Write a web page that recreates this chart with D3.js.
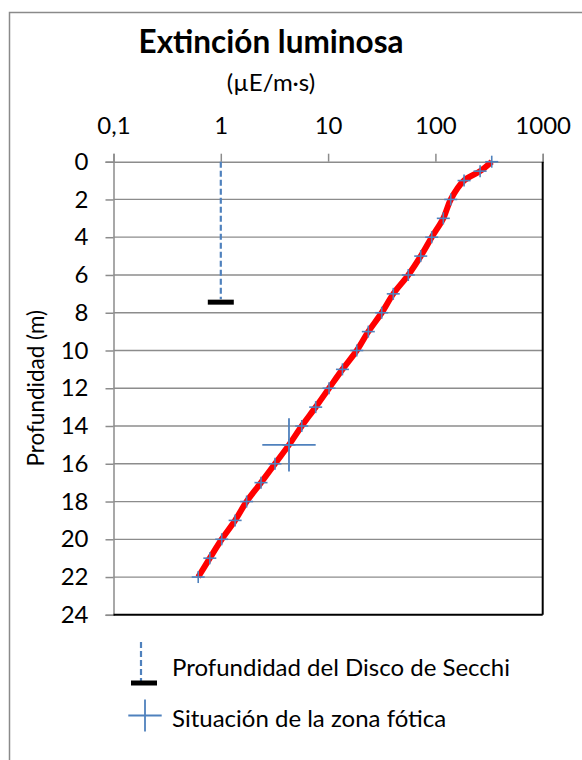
<!DOCTYPE html>
<html>
<head>
<meta charset="utf-8">
<script src="https://cdn.jsdelivr.net/npm/d3@7"></script>
<style>
  html, body { margin: 0; padding: 0; background: #fff; }
  svg { display: block; }
  text { font-family: Lato, "Open Sans", sans-serif; fill: #000; }
</style>
</head>
<body>
<svg id="chart" width="582" height="760"></svg>
<script>
// ---- data ----
const depths = [0, 0.5, 1, 2, 3, 4, 5, 6, 7, 8, 9, 10, 11, 12, 13, 14, 15, 16, 17, 18, 19, 20, 21, 22];
const light  = [335, 261, 185, 139, 118.5, 92.4, 73, 55.9, 40.5, 31.6, 23.7, 18.5, 13.6, 10.2, 7.66, 5.68, 4.32, 3.2, 2.37, 1.74, 1.36, 1.02, 0.79, 0.616];
const secchiLight = [1];
const secchiDepth = [7.44];
const photicLight = [4.32];
const photicDepth = [15];
const xTicks = [0.1, 1, 10, 100, 1000];
const xTickLabels = ["0,1", "1", "10", "100", "1000"];
const yTicks = [0, 2, 4, 6, 8, 10, 12, 14, 16, 18, 20, 22, 24];
const titleText = "Extinción luminosa";
const subtitleText = "(µE/m·s)";
const yTitle = "Profundidad (m)";
const legendLabels = ["Profundidad del Disco de Secchi", "Situación de la zona fótica"];

const blue = "#4F81BD";
const svg = d3.select("#chart");

// outer chart border
svg.append("rect").attr("x", 9.5).attr("y", 12.5).attr("width", 600).attr("height", 800)
  .attr("fill", "none").attr("stroke", "#8a8a8a").attr("stroke-width", 1.5);

const L = 113.5, R = 542.7, T = 161.7, B = 614.8;
const x = d3.scaleLog().domain([0.1, 1000]).range([L, R]);
const y = d3.scaleLinear().domain([0, 24]).range([T, B]);

// title
svg.append("text").attr("x", 271).attr("y", 53).attr("text-anchor", "middle")
  .attr("font-size", 31.5).attr("font-weight", "bold").text(titleText);
svg.append("text").attr("x", 271).attr("y", 91).attr("text-anchor", "middle")
  .attr("font-size", 24).text(subtitleText);

// gridlines
svg.append("g").selectAll("line").data(yTicks.filter(d => d > 0 && d < 24)).join("line")
  .attr("x1", L).attr("x2", R).attr("y1", d => y(d)).attr("y2", d => y(d))
  .attr("stroke", "#8c8c8c").attr("stroke-width", 1.3);

// top axis
const xAxis = d3.axisTop(x).tickValues(xTicks).tickSize(8).tickPadding(20)
  .tickFormat((d, i) => xTickLabels[i]);
const gx = svg.append("g").attr("transform", `translate(0,${T})`).call(xAxis);
gx.select(".domain").attr("stroke", "#8c8c8c").attr("stroke-width", 1.5);
gx.selectAll(".tick line").attr("stroke", "#8c8c8c").attr("stroke-width", 1.5);
gx.selectAll(".tick text").attr("font-size", 24).attr("font-family", "Lato").attr("fill", "#000");

// left axis
const yAxis = d3.axisLeft(y).tickValues(yTicks).tickSize(8).tickPadding(17);
const gy = svg.append("g").attr("transform", `translate(${L},0)`).call(yAxis);
gy.select(".domain").attr("stroke", "#8c8c8c").attr("stroke-width", 1.5);
gy.selectAll(".tick line").attr("stroke", "#8c8c8c").attr("stroke-width", 1.5);
gy.selectAll(".tick text").attr("font-size", 24).attr("font-family", "Lato").attr("fill", "#000");

// right & bottom plot borders
svg.append("line").attr("x1", R).attr("x2", R).attr("y1", T).attr("y2", B).attr("stroke", "#000").attr("stroke-width", 2);
svg.append("line").attr("x1", L).attr("x2", R).attr("y1", B).attr("y2", B).attr("stroke", "#000").attr("stroke-width", 2);

// y title
svg.append("text").attr("transform", `translate(44,${(T + B) / 2}) rotate(-90)`)
  .attr("text-anchor", "middle").attr("font-size", 22.5).text(yTitle);

// Secchi depth
svg.append("line").attr("x1", x(secchiLight[0])).attr("x2", x(secchiLight[0]))
  .attr("y1", y(0)).attr("y2", y(secchiDepth[0]) - 3)
  .attr("stroke", blue).attr("stroke-width", 2.2).attr("stroke-dasharray", "6,3");
svg.append("line").attr("x1", x(secchiLight[0]) - 13).attr("x2", x(secchiLight[0]) + 13)
  .attr("y1", y(secchiDepth[0])).attr("y2", y(secchiDepth[0]))
  .attr("stroke", "#000").attr("stroke-width", 5);

// light curve
const pts = depths.map((d, i) => [light[i], d]);
const line = d3.line().x(p => x(p[0])).y(p => y(p[1])).curve(d3.curveCatmullRom.alpha(0.5));
svg.append("path").datum(pts).attr("d", line).attr("fill", "none")
  .attr("stroke", "#FF0000").attr("stroke-width", 6).attr("stroke-linejoin", "round");

// markers
function cross(g, cx, cy, hw, hh, sw) {
  g.append("line").attr("x1", cx - hw).attr("x2", cx + hw).attr("y1", cy).attr("y2", cy)
    .attr("stroke", blue).attr("stroke-width", sw);
  g.append("line").attr("x1", cx).attr("x2", cx).attr("y1", cy - hh).attr("y2", cy + hh)
    .attr("stroke", blue).attr("stroke-width", sw);
}
const mg = svg.append("g");
pts.forEach(p => cross(mg, x(p[0]), y(p[1]), 6.5, 6, 1.6));
cross(mg, x(photicLight[0]), y(photicDepth[0]), 26.7, 26.7, 1.8);

// legend
const lg = svg.append("g");
lg.append("line").attr("x1", 141).attr("x2", 141).attr("y1", 642).attr("y2", 681)
  .attr("stroke", blue).attr("stroke-width", 2.2).attr("stroke-dasharray", "6,3");
lg.append("line").attr("x1", 131).attr("x2", 157).attr("y1", 683).attr("y2", 683)
  .attr("stroke", "#000").attr("stroke-width", 5);
lg.append("text").attr("x", 172).attr("y", 676).attr("font-size", 24).text(legendLabels[0]);
cross(lg, 145, 715.5, 16.7, 16, 1.8);
lg.append("text").attr("x", 172).attr("y", 727).attr("font-size", 24).text(legendLabels[1]);
</script>
</body>
</html>
